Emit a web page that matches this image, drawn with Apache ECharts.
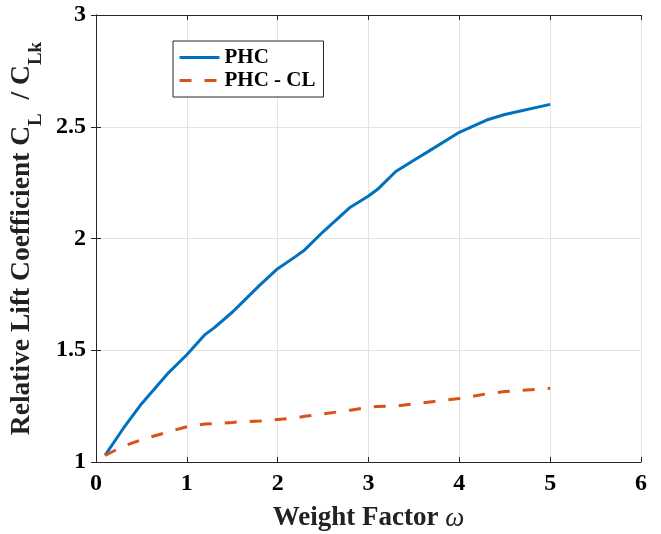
<!DOCTYPE html>
<html><head><meta charset="utf-8">
<script src="https://cdn.jsdelivr.net/npm/echarts@6/dist/echarts.min.js"></script>
<style>html,body{margin:0;padding:0;background:#fff}#c{width:661px;height:534px}</style>
</head><body><div id="c"></div>
<script>
const weightFactor = [0.1,0.3,0.5,0.8,1.0,1.2,1.3,1.5,1.6,1.8,2.0,2.2,2.3,2.5,2.8,3.0,3.1,3.3,3.5,3.7,4.0,4.3,4.5,5.0];
const phc = [1.03,1.15,1.26,1.40,1.48,1.57,1.60,1.67,1.71,1.79,1.865,1.92,1.95,2.03,2.14,2.19,2.22,2.30,2.35,2.40,2.475,2.53,2.555,2.60];
const phcCl = [1.03,1.07,1.10,1.135,1.158,1.17,1.172,1.177,1.18,1.183,1.19,1.197,1.205,1.215,1.232,1.245,1.248,1.25,1.26,1.27,1.284,1.305,1.315,1.33];
const xTicks = [0,1,2,3,4,5,6];
const yTicks = [1,1.5,2,2.5,3];

const FONT = '"Liberation Serif", "Times New Roman", serif';
const AX = '#262626';
const chart = echarts.init(document.getElementById('c'));
const pairs = (ys) => weightFactor.map((x, i) => [x, ys[i]]);
const baseAxisLine = {show: true, lineStyle: {color: AX, width: 1}};
chart.setOption({
  animation: false,
  grid: {left: 96, right: 20, top: 15, bottom: 72, containLabel: false, outerBoundsMode: 'none'},
  legend: {
    orient: 'vertical', left: 173, top: 41,
    padding: [6, 8, 6, 5], itemGap: 2, itemWidth: 40, itemHeight: 14,
    borderColor: AX, borderWidth: 1, backgroundColor: '#fff', borderRadius: 0,
    itemStyle: {opacity: 0},
    lineStyle: {width: 3},
    textStyle: {fontFamily: FONT, fontWeight: 'bold', fontSize: 21, color: '#000'},
    data: ['PHC', 'PHC - CL']
  },
  xAxis: [{
    type: 'value', min: 0, max: 6, interval: 1,
    axisLine: baseAxisLine, axisTick: {inside: true, length: 5, lineStyle: {color: AX}},
    splitLine: {show: true, lineStyle: {color: '#e3e3e3', width: 1}},
    axisLabel: {fontFamily: FONT, fontWeight: 'bold', fontSize: 24, color: '#000', margin: 10,
      formatter: v => xTicks.includes(v) ? String(v) : ''},
    name: '{b|Weight Factor }{w|ω}', nameLocation: 'middle', nameGap: 43,
    nameTextStyle: {rich: {
      b: {fontFamily: FONT, fontWeight: 'bold', fontSize: 27, color: '#222'},
      w: {fontFamily: FONT, fontStyle: 'italic', fontSize: 27, color: '#222'}
    }}
  }, {
    type: 'value', position: 'top', min: 0, max: 6, interval: 1,
    axisLine: baseAxisLine, axisTick: {inside: true, length: 5, lineStyle: {color: AX}},
    axisLabel: {show: false}, splitLine: {show: false}
  }],
  yAxis: [{
    type: 'value', min: 1, max: 3, interval: 0.5,
    axisLine: baseAxisLine, axisTick: {inside: true, length: 5, lineStyle: {color: AX}},
    splitLine: {show: true, lineStyle: {color: '#e3e3e3', width: 1}},
    axisLabel: {fontFamily: FONT, fontWeight: 'bold', fontSize: 24, color: '#000', margin: 10,
      formatter: v => yTicks.includes(v) ? String(v) : ''},
    name: '{b|Relative Lift Coefficient C}{s|L}{b|  / C}{s|Lk}', nameLocation: 'middle', nameGap: 59,
    nameTextStyle: {rich: {
      b: {fontFamily: FONT, fontWeight: 'bold', fontSize: 27.5, color: '#222', verticalAlign: 'bottom', lineHeight: 36},
      s: {fontFamily: FONT, fontWeight: 'bold', fontSize: 19, color: '#222', verticalAlign: 'bottom', lineHeight: 36, padding: [0, 0, -9, 0]}
    }}
  }, {
    type: 'value', position: 'right', min: 1, max: 3, interval: 0.5,
    axisLine: baseAxisLine, axisTick: {inside: true, length: 5, lineStyle: {color: AX}},
    axisLabel: {show: false}, splitLine: {show: false}
  }],
  series: [{
    name: 'PHC', type: 'line', data: pairs(phc), symbol: 'none', smooth: false,
    lineStyle: {color: '#0072BD', width: 3}, itemStyle: {color: '#0072BD'}
  }, {
    name: 'PHC - CL', type: 'line', data: pairs(phcCl), symbol: 'none', smooth: false,
    lineStyle: {color: '#D95319', width: 3, type: [12, 13]}, itemStyle: {color: '#D95319'}
  }]
});
</script></body></html>
